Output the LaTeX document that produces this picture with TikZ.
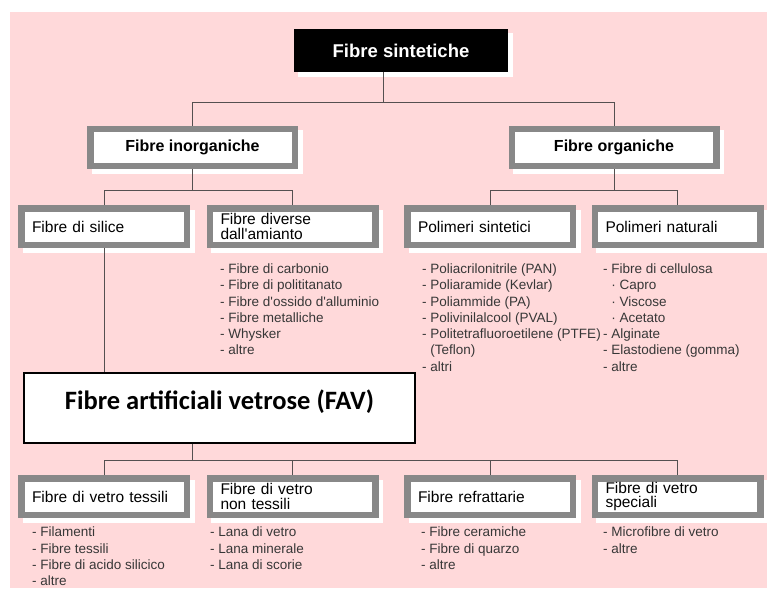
\documentclass[tikz,border=0pt]{standalone}
\usepackage{fontspec}
\setmainfont{Liberation Sans}
\newfontfamily\favfont{Carlito}
\usetikzlibrary{calc}

\definecolor{bgpink}{RGB}{255,217,218}
\definecolor{boxgray}{RGB}{136,136,136}
\definecolor{linegray}{RGB}{85,80,80}
\definecolor{listgray}{RGB}{55,55,55}

\tikzset{
  conn/.style={draw=linegray, line width=0.9pt},
  shadowed/.style={preaction={draw=white, fill=white, transform canvas={shift={(4.5pt,-4.5pt)}}}},
  headbox/.style={shadowed, draw=boxgray, line width=6.5pt, fill=white, minimum width=204.5pt, minimum height=36.5pt, font=\bfseries\fontsize{16}{18}\selectfont},
  graybox/.style={shadowed, draw=boxgray, line width=6.5pt, fill=white, inner xsep=10.75pt, inner ysep=0pt, text width=144pt, minimum height=36.5pt, align=left, font=\fontsize{15.5}{14.8}\selectfont},
  itemlist/.style={anchor=north west, inner sep=0pt, align=left, text=listgray, font=\fontsize{13.5}{16.3}\selectfont}
}

\begin{document}
\begin{tikzpicture}[x=1pt,y=-1pt]
\useasboundingbox (0,0) rectangle (767,588);
\fill[bgpink] (10,12) rectangle (767,588);

\node[shadowed, fill=black, text=white, minimum width=214pt, minimum height=43pt, inner sep=0pt, font=\bfseries\fontsize{18.5}{20}\selectfont] (sint) at (401,50.5) {Fibre sintetiche};

\node[headbox] (inorg) at (192.5,147.5) {Fibre inorganiche};
\node[headbox] (org) at (614,147.5) {Fibre organiche};

\node[graybox] (silice) at (104,226.5) {Fibre di silice};
\node[graybox] (diverse) at (292.5,226.5) {Fibre diverse\\dall\textquotesingle amianto};
\node[graybox] (psint) at (490,226.5) {Polimeri sintetici};
\node[graybox] (pnat) at (677.5,226.5) {Polimeri naturali};

\node[draw=black, line width=1.8pt, fill=white, minimum width=391pt, minimum height=70pt, inner ysep=0pt, text height=36pt, text depth=34pt, font=\favfont\bfseries\fontsize{26.5}{30}\selectfont] (fav) at (219.5,408) {Fibre artificiali vetrose (FAV)};

\node[graybox] (vtess) at (104,496.5) {Fibre di vetro tessili};
\node[graybox] (vnon) at (292.5,496.5) {Fibre di vetro\\non tessili};
\node[graybox] (refr) at (490,496.5) {Fibre refrattarie};
\node[graybox] (vspec) at (677.5,496.5) {Fibre di vetro\\speciali};

% connectors
\draw[conn] ([xshift=-18pt]sint.south) -- ++(0,30) coordinate (hubA);
\foreach \n in {inorg,org} \draw[conn] (hubA) -| (\n.north);
\draw[conn] (inorg.south) -- ++(0,21) coordinate (hubB);
\foreach \n in {silice,diverse} \draw[conn] (hubB) -| (\n.north);
\draw[conn] (org.south) -- ++(0,21) coordinate (hubC);
\foreach \n in {psint,pnat} \draw[conn] (hubC) -| (\n.north);
\draw[conn] (silice.south) -- (silice.south |- fav.north);
\draw[conn] (fav.south -| inorg.south) -- ++(0,17) coordinate (hubD);
\foreach \n in {vtess,vnon,refr,vspec} \draw[conn] (hubD) -| (\n.north);

% lists
\node[itemlist] (ldiv) at (220,263.5) {- Fibre di carbonio\\- Fibre di polititanato\\- Fibre d\textquotesingle ossido d\textquotesingle alluminio\\- Fibre metalliche\\- Whysker\\- altre};
\node[itemlist] (lpsint) at (422,263.5) {- Poliacrilonitrile (PAN)\\- Poliaramide (Kevlar)\\- Poliammide (PA)\\- Polivinilalcool (PVAL)\\- Politetrafluoroetilene (PTFE)\\\hphantom{- }(Teflon)\\- altri};
\node[itemlist] (lpnat) at (603,263.5) {- Fibre di cellulosa\\\hphantom{- }· Capro\\\hphantom{- }· Viscose\\\hphantom{- }· Acetato\\- Alginate\\- Elastodiene (gomma)\\- altre};
\node[itemlist] (lvtess) at (32,527) {- Filamenti\\- Fibre tessili\\- Fibre di acido silicico\\- altre};
\node[itemlist] (lvnon) at (210,527) {- Lana di vetro\\- Lana minerale\\- Lana di scorie};
\node[itemlist] (lrefr) at (421,527) {- Fibre ceramiche\\- Fibre di quarzo\\- altre};
\node[itemlist] (lvspec) at (603,527) {- Microfibre di vetro\\- altre};
\end{tikzpicture}
\end{document}
